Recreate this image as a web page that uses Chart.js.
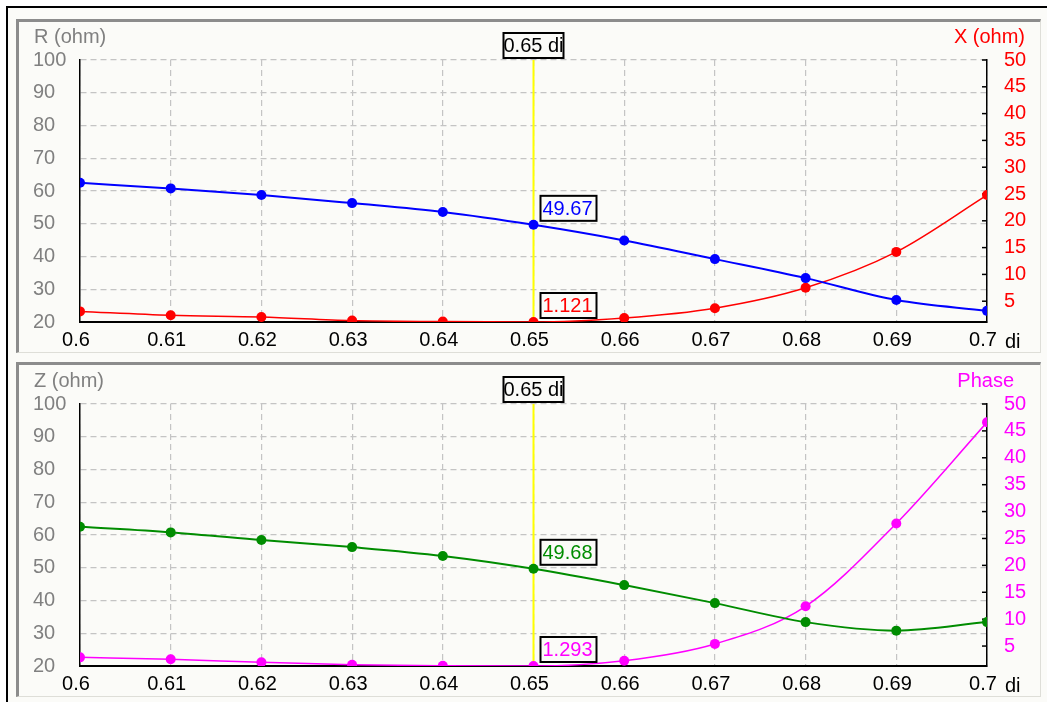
<!DOCTYPE html>
<html>
<head>
<meta charset="utf-8">
<script src="https://cdn.jsdelivr.net/npm/chart.js@4.4.0/dist/chart.umd.min.js"></script>
<style>
  html, body { margin: 0; padding: 0; background: #ffffff; }
  #wrap { position: relative; width: 1047px; height: 702px; overflow: hidden; background: #ffffff; }
  .outer { position: absolute; left: 6px; top: 6px; width: 1060px; height: 720px;
           border-left: 2px solid #000; border-top: 2px solid #000; background: #fbfbf8; }
  .panel { position: absolute; left: 16px; width: 1025px; box-sizing: border-box;
           border-left: 3px solid #8c8c8c; border-top: 3px solid #8c8c8c;
           border-bottom: 1px solid #deded8; border-right: 1px solid #deded8; background: #fbfbf8; }
  canvas { position: absolute; left: 0; }
</style>
</head>
<body>
<div id="wrap">
  <div class="outer"></div>
  <div class="panel" style="top:19px;height:334px;"></div>
  <div class="panel" style="top:362px;height:335px;"></div>
  <canvas id="top" width="1047" height="350" style="top:0px;"></canvas>
  <canvas id="bottom" width="1047" height="350" style="top:344px;"></canvas>
</div>
<script>
// sweep variable (di) and tick labels
const diValues = [0.6, 0.61, 0.62, 0.63, 0.64, 0.65, 0.66, 0.67, 0.68, 0.69, 0.7];
const diTickLabels = ['0.6', '0.61', '0.62', '0.63', '0.64', '0.65', '0.66', '0.67', '0.68', '0.69', '0.7'];

// resistance / reactance (top panel)
const resistance = [62.5, 60.8, 58.8, 56.3, 53.6, 49.67, 44.9, 39.2, 33.4, 26.7, 23.4];
const reactance  = [3.1, 2.37, 2.05, 1.38, 1.2, 1.121, 1.87, 3.7, 7.5, 14.2, 24.8];

// impedance magnitude / phase (bottom panel)
const impedance = [62.5, 60.8, 58.5, 56.3, 53.6, 49.68, 44.7, 39.2, 33.4, 30.8, 33.4];
const phase     = [2.9, 2.54, 1.98, 1.53, 1.35, 1.293, 2.28, 5.4, 12.4, 27.8, 46.6];

// left axis ticks (ohm) and right axis ticks
const leftTicks  = [20, 30, 40, 50, 60, 70, 80, 90, 100];
const rightTicks = [5, 10, 15, 20, 25, 30, 35, 40, 45, 50];

// cursor position
const cursorIndex = 5;
const cursorLabel = '0.65 di';

const FONT = "'Liberation Sans', Arial, sans-serif";
const FONT_SIZE = 20;

function overlayPlugin(opts) {
  return {
    id: 'overlay_' + opts.id,
    beforeDatasetsDraw(chart) {
      const ctx = chart.ctx, area = chart.chartArea;
      const x = chart.scales.x.getPixelForValue(diValues[cursorIndex]);
      ctx.save();
      ctx.strokeStyle = '#ffff00';
      ctx.lineWidth = 2;
      ctx.beginPath();
      ctx.moveTo(x, area.top);
      ctx.lineTo(x, area.bottom);
      ctx.stroke();
      // inner tick marks on the right axis
      const yr = chart.scales.yR;
      ctx.strokeStyle = '#000';
      ctx.lineWidth = 1.5;
      rightTicks.forEach(v => {
        const y = yr.getPixelForValue(v);
        ctx.beginPath();
        ctx.moveTo(area.right - 5, y);
        ctx.lineTo(area.right, y);
        ctx.stroke();
      });
      ctx.restore();
    },
    afterDatasetsDraw(chart) {
      const ctx = chart.ctx, area = chart.chartArea;
      const xs = chart.scales.x;
      const px = xs.getPixelForValue(diValues[cursorIndex]);
      ctx.save();
      ctx.font = FONT_SIZE + 'px ' + FONT;
      ctx.textBaseline = 'middle';
      const box = (x, y, w, h, text, color, align) => {
        ctx.fillStyle = '#fbfbf8';
        ctx.fillRect(x, y, w, h);
        ctx.strokeStyle = '#000';
        ctx.lineWidth = 2;
        ctx.strokeRect(x + 1, y + 1, w - 2, h - 2);
        ctx.fillStyle = color;
        ctx.textAlign = align;
        ctx.fillText(text, align === 'center' ? x + w / 2 : x + 3, y + h / 2 + 1);
      };
      // cursor caption above the plot
      box(px - 31, area.top - 28, 62, 27, cursorLabel, '#000', 'center');
      // value boxes
      const yl = chart.scales.yL.getPixelForValue(opts.left[cursorIndex]);
      const yr = chart.scales.yR.getPixelForValue(opts.right[cursorIndex]);
      box(px + 6, yl - 30, 58, 27, String(opts.left[cursorIndex]), opts.leftColor, 'left');
      box(px + 6, yr - 30, 58, 27, String(opts.right[cursorIndex]), opts.rightColor, 'left');
      // axis titles
      ctx.textAlign = 'left';
      ctx.fillStyle = '#808080';
      ctx.fillText(opts.leftTitle, 34, area.top - 23);
      ctx.fillStyle = opts.rightColor;
      ctx.textAlign = 'right';
      ctx.fillText(opts.rightTitle, opts.rightTitleEnd, area.top - 23);
      ctx.textAlign = 'left';
      ctx.fillStyle = '#000';
      ctx.fillText('di', area.right + 18, area.bottom + 20);
      ctx.restore();
    }
  };
}

function makeChart(opts) {
  const toPts = arr => arr.map((v, i) => ({ x: diValues[i], y: v }));
  return new Chart(document.getElementById(opts.id), {
    type: 'line',
    data: {
      datasets: [
        { data: toPts(opts.left), yAxisID: 'yL', borderColor: opts.leftColor, backgroundColor: opts.leftColor,
          borderWidth: 2, pointRadius: 5, pointBorderWidth: 0, cubicInterpolationMode: 'monotone' },
        { data: toPts(opts.right), yAxisID: 'yR', borderColor: opts.rightColor, backgroundColor: opts.rightColor,
          borderWidth: 1.5, pointRadius: 5, pointBorderWidth: 0, cubicInterpolationMode: 'monotone' }
      ]
    },
    options: {
      responsive: false,
      animation: false,
      events: [],
      layout: { padding: { left: 33, top: 60, right: 0, bottom: 0 } },
      plugins: { legend: { display: false }, tooltip: { enabled: false } },
      scales: {
        x: {
          type: 'linear', min: 0.6, max: 0.7,
          afterBuildTicks: s => { s.ticks = diValues.map(v => ({ value: v })); },
          afterFit: s => { s.height = 28; },
          ticks: {
            color: '#000', font: { family: FONT, size: FONT_SIZE }, padding: 6, labelOffset: -4,
            maxRotation: 0, autoSkip: false,
            callback: (v, i) => diTickLabels[i]
          },
          grid: { color: '#c4c4c4', lineWidth: 1.2, drawTicks: false },
          border: { display: true, color: '#000', width: 2, dash: [6, 4] }
        },
        yL: {
          position: 'left', min: 20, max: 100,
          afterBuildTicks: s => { s.ticks = leftTicks.map(v => ({ value: v })); },
          afterFit: s => { s.width = 47; },
          ticks: { color: '#808080', font: { family: FONT, size: FONT_SIZE }, crossAlign: 'far', padding: 0 },
          grid: { color: '#c4c4c4', lineWidth: 1.2, drawTicks: false },
          border: { display: true, color: '#000', width: 1.5, dash: [6, 4] }
        },
        yR: {
          position: 'right', min: opts.right[cursorIndex], max: 50,
          afterBuildTicks: s => { s.ticks = rightTicks.map(v => ({ value: v })); },
          afterFit: s => { s.width = 60; },
          ticks: { color: opts.rightColor, font: { family: FONT, size: FONT_SIZE }, padding: 9, crossAlign: 'near' },
          grid: { display: false, drawOnChartArea: false },
          border: { display: true, color: '#000', width: 1.5 }
        }
      }
    },
    plugins: [overlayPlugin(opts)]
  });
}

makeChart({ id: 'top', left: resistance, right: reactance, leftColor: '#0000ff', rightColor: '#ff0000',
            leftTitle: 'R (ohm)', rightTitle: 'X (ohm)', rightTitleEnd: 1025 });
makeChart({ id: 'bottom', left: impedance, right: phase, leftColor: '#008c00', rightColor: '#ff00ff',
            leftTitle: 'Z (ohm)', rightTitle: 'Phase', rightTitleEnd: 1014 });
</script>
</body>
</html>
